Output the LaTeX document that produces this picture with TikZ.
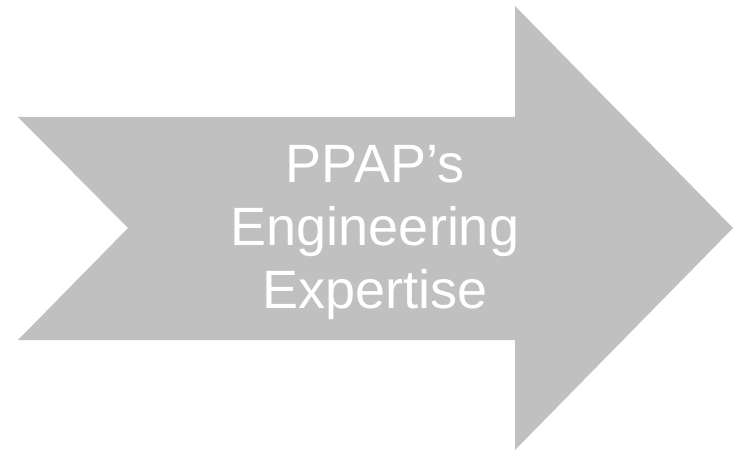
\documentclass[tikz,border=0pt]{standalone}
\usepackage{fontspec}
\setmainfont{Liberation Sans}
\definecolor{arrowgray}{RGB}{192,192,192}
\tikzset{
  bigarrow/.style={fill=arrowgray, draw=none},
  arrowtext/.style={text=white, align=center, inner sep=0pt, font=\fontsize{54}{63}\selectfont}
}
\begin{document}
\begin{tikzpicture}[x=1pt,y=1pt]
\useasboundingbox (0,0) rectangle (733,456);
\fill[bigarrow] (18,339) -- (515,339) -- (515,450) -- (733,228) -- (515,6) -- (515,116) -- (18,116) -- (128,228) -- cycle;
\node[arrowtext] (label) at (375,223.5) {PPAP’s\\Engineering\\Expertise};
\end{tikzpicture}
\end{document}
